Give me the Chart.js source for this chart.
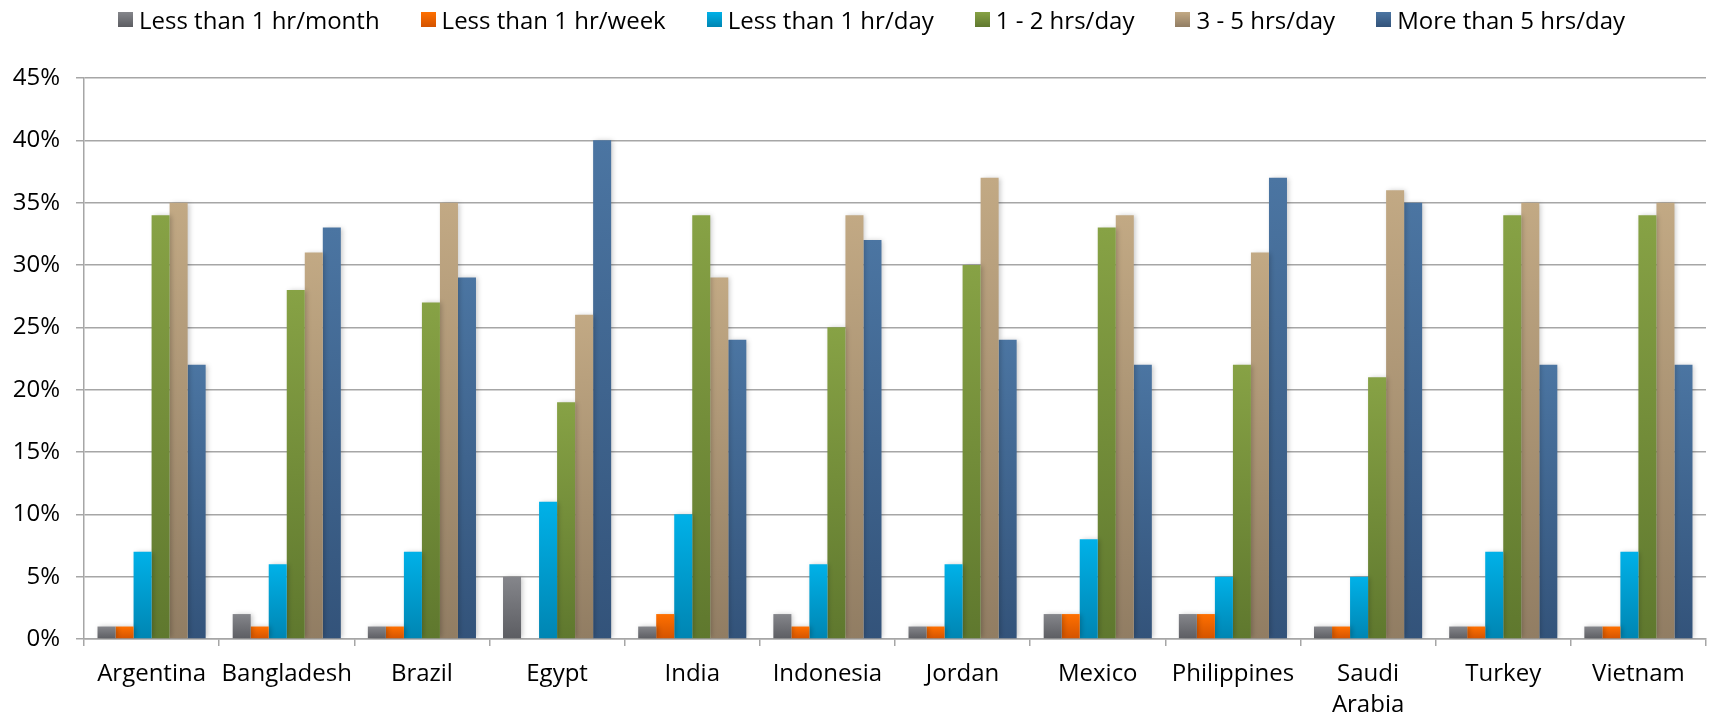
<!DOCTYPE html>
<html>
<head>
<meta charset="utf-8">
<script src="https://cdn.jsdelivr.net/npm/chart.js@4.4.1/dist/chart.umd.min.js"></script>
<style>
  html, body { margin: 0; padding: 0; background: #fff; }
  #wrap { position: relative; width: 1713px; height: 718px; }
  #legend {
    position: absolute; top: 3px; left: 118px;
    display: flex; align-items: center; gap: 41px;
    font-family: "Open Sans", sans-serif; font-size: 24px; color: #000;
    white-space: nowrap;
  }
  #legend .item { display: flex; align-items: center; }
  #legend .box { width: 15px; height: 15px; margin-right: 6px; }
</style>
</head>
<body>
<div id="wrap">
  <canvas id="chart" width="1713" height="718"></canvas>
  <div id="legend"></div>
</div>
<script>
var countries = ["Argentina", "Bangladesh", "Brazil", "Egypt", "India", "Indonesia",
  "Jordan", "Mexico", "Philippines", ["Saudi", "Arabia"], "Turkey", "Vietnam"];

var seriesNames = ["Less than 1 hr/month", "Less than 1 hr/week", "Less than 1 hr/day",
  "1 - 2 hrs/day", "3 - 5 hrs/day", "More than 5 hrs/day"];

var lessMonth = [1, 2, 1, 5, 1, 2, 1, 2, 2, 1, 1, 1];
var lessWeek  = [1, 1, 1, 0, 2, 1, 1, 2, 2, 1, 1, 1];
var lessDay   = [7, 6, 7, 11, 10, 6, 6, 8, 5, 5, 7, 7];
var oneTwo    = [34, 28, 27, 19, 34, 25, 30, 33, 22, 21, 34, 34];
var threeFive = [35, 31, 35, 26, 29, 34, 37, 34, 31, 36, 35, 35];
var moreFive  = [22, 33, 29, 40, 24, 32, 24, 22, 37, 35, 22, 22];

var yTicks = [0, 5, 10, 15, 20, 25, 30, 35, 40, 45];

// top / bottom colour of each series gradient
var colorTop = ["#85868b", "#ff7000", "#00b1e8", "#87a245", "#c2a984", "#4b75a2"];
var colorBot = ["#5c5d62", "#d35300", "#0085b2", "#5f782e", "#917d63", "#33537a"];

function barGradient(i) {
  return function(ctx) {
    var chart = ctx.chart;
    if (!chart.chartArea || !chart.scales.y) return colorTop[i];
    var y = chart.scales.y;
    var top = y.getPixelForValue(ctx.raw || 0);
    var bottom = y.getPixelForValue(0);
    if (bottom - top < 1) return colorTop[i];
    var g = chart.ctx.createLinearGradient(0, top, 0, bottom);
    g.addColorStop(0, colorTop[i]);
    g.addColorStop(1, colorBot[i]);
    return g;
  };
}

var allSeries = [lessMonth, lessWeek, lessDay, oneTwo, threeFive, moreFive];
var datasets = [];
for (var i = 0; i < allSeries.length; i++) {
  datasets.push({
    label: seriesNames[i],
    data: allSeries[i],
    backgroundColor: barGradient(i),
    borderWidth: 0,
    categoryPercentage: 0.8,
    barPercentage: 1.0
  });
}

// soft shadow behind the bars
var shadowPlugin = {
  id: "barShadow",
  beforeDatasetsDraw: function(chart) {
    var c = chart.ctx;
    c.save();
    c.shadowColor = "rgba(0,0,0,0.22)";
    c.shadowBlur = 5;
    c.shadowOffsetX = 2;
    c.shadowOffsetY = 0;
  },
  afterDatasetsDraw: function(chart) {
    chart.ctx.restore();
  }
};

var gridColor = "#a6a6a6";
var tickFont = { family: "'Open Sans', sans-serif", size: 24, lineHeight: 1.32 };

var chart = new Chart(document.getElementById("chart"), {
  type: "bar",
  data: { labels: countries, datasets: datasets },
  plugins: [shadowPlugin],
  options: {
    responsive: false,
    animation: false,
    layout: { padding: { top: 78, right: 7, left: 0, bottom: 0 } },
    plugins: {
      legend: { display: false },
      tooltip: { enabled: false }
    },
    scales: {
      x: {
        offset: true,
        grid: {
          display: true, offset: true, drawOnChartArea: false, drawTicks: true,
          tickLength: 7, color: gridColor, lineWidth: 1.5
        },
        border: { color: gridColor, width: 1.5 },
        ticks: { font: tickFont, color: "#000", padding: 12, maxRotation: 0, autoSkip: false },
        afterFit: function(s) { s.height = 79; }
      },
      y: {
        min: 0, max: 45,
        afterBuildTicks: function(s) {
          s.ticks = yTicks.map(function(v) { return { value: v }; });
        },
        grid: { color: gridColor, lineWidth: 1.5, tickLength: 8 },
        border: { color: gridColor, width: 1.5 },
        ticks: {
          font: tickFont, color: "#000", padding: 16,
          callback: function(v) { return v + "%"; }
        },
        afterFit: function(s) { s.width = 84; }
      }
    }
  }
});

// legend built from the chart's datasets
var legend = document.getElementById("legend");
chart.data.datasets.forEach(function(ds, i) {
  var item = document.createElement("div");
  item.className = "item";
  var box = document.createElement("span");
  box.className = "box";
  box.style.background = "linear-gradient(" + colorTop[i] + ", " + colorBot[i] + ")";
  var txt = document.createElement("span");
  txt.textContent = ds.label;
  item.appendChild(box);
  item.appendChild(txt);
  legend.appendChild(item);
});
</script>
</body>
</html>
